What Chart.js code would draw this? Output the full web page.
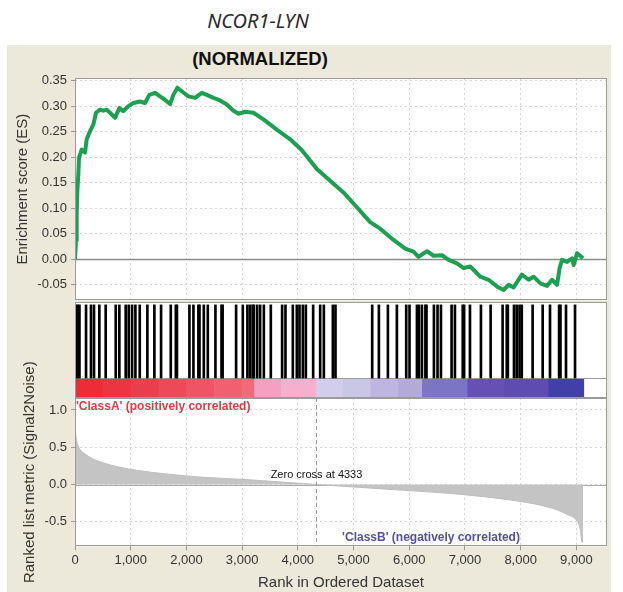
<!DOCTYPE html>
<html>
<head>
<meta charset="utf-8">
<title>NCOR1-LYN enrichment plot</title>
<script src="https://cdn.jsdelivr.net/npm/chart.js@4.4.1/dist/chart.umd.min.js"></script>
<style>
  html, body { margin: 0; padding: 0; background: #fff; }
  body { width: 623px; height: 592px; position: relative; overflow: hidden; }
  #gene-set { position: absolute; left: 158px; top: 11px; width: 200px; text-align: center;
              font: italic 20px/1 'Noto Sans', sans-serif; color: #2b2b2b; }
  #panel { position: absolute; left: 7px; top: 45px; width: 604px; height: 547px; background: #ece9da; }
  #panel-title { position: absolute; left: 153px; top: 5px; width: 200px; text-align: center;
                 font: bold 18.5px/1 'Liberation Sans', Arial, sans-serif; color: #111; }
  #panel canvas { position: absolute; left: 0; }
  #chart-es   { top: 0; }
  #chart-hits { top: 257px; }
  #chart-rank { top: 295px; }
</style>
</head>
<body>
<div id="gene-set">NCOR1-LYN</div>
<div id="panel">
  <div id="panel-title">(NORMALIZED)</div>
  <canvas id="chart-es" width="604" height="267"></canvas>
  <canvas id="chart-hits" width="604" height="96"></canvas>
  <canvas id="chart-rank" width="604" height="252"></canvas>
</div>
<script>
// Running enrichment score
var esRank = [0, 18, 30, 42, 60, 72, 120, 180, 210, 270, 330, 377, 449, 509, 569, 629, 719, 796, 868, 958,
  1048, 1168, 1257, 1335, 1437, 1527, 1617, 1707, 1766, 1838, 1916, 2036, 2156, 2276, 2366, 2485, 2605, 2725,
  2845, 2934, 3054, 3203, 3383, 3623, 3862, 4070, 4341, 4640, 4820, 5060, 5299, 5479, 5718, 5928, 6077, 6167,
  6318, 6437, 6587, 6707, 6857, 6976, 7095, 7275, 7424, 7574, 7694, 7784, 7874, 8023, 8143, 8233, 8353, 8473,
  8563, 8653, 8700, 8743, 8832, 8922, 8952, 9012, 9120];
var esScore = [0, 0.037, 0.089, 0.134, 0.167, 0.199, 0.215, 0.209, 0.235, 0.251, 0.264, 0.287, 0.293, 0.291,
  0.293, 0.287, 0.277, 0.296, 0.290, 0.300, 0.306, 0.309, 0.306, 0.322, 0.326, 0.319, 0.312, 0.304, 0.322,
  0.336, 0.329, 0.319, 0.316, 0.326, 0.322, 0.316, 0.311, 0.303, 0.291, 0.285, 0.289, 0.287, 0.274, 0.254,
  0.235, 0.214, 0.177, 0.148, 0.131, 0.102, 0.073, 0.060, 0.038, 0.021, 0.015, 0.005, 0.016, 0.007, 0.008,
  -0.001, -0.008, -0.017, -0.014, -0.034, -0.040, -0.053, -0.060, -0.050, -0.055, -0.030, -0.040, -0.034,
  -0.047, -0.052, -0.040, -0.050, -0.017, -0.001, -0.005, 0.002, -0.011, 0.012, 0.002];

// Positions of gene set members in the ranked list
var hitRanks = [20, 50, 80, 198, 287, 341, 437, 551, 731, 796, 910, 964, 1024, 1084, 1162, 1299, 1425, 1545,
  1719, 1810, 1830, 2054, 2126, 2215, 2235, 2312, 2384, 2521, 2630, 2650, 2892, 3012, 3095, 3143, 3190, 3210,
  3269, 3323, 3390, 3515, 3718, 3778, 3910, 3982, 4030, 4090, 4144, 4275, 4401, 4467, 4629, 4676, 5335, 5455,
  5617, 5778, 5946, 6005, 6138, 6174, 6228, 6290, 6310, 6443, 6508, 6569, 6760, 6820, 6960, 6985, 7090, 7287,
  7461, 7676, 7750, 7770, 7880, 7928, 7980, 8020, 8215, 8395, 8527, 8690, 8715, 8814, 8976];

// Heat bar under the hits: segment edges and their colours
var heatEdges = [0, 500, 1000, 1500, 2000, 2500, 3000, 3220, 3700, 4333, 4800, 5300, 5800, 6230, 7040, 7700, 8500, 9130];
var heatColors = ['#ee2c38', '#ec3442', '#ea3e4c', '#ec4a58', '#ee5464', '#f0606e', '#f06a78', '#f4a0c0',
  '#f4b0cc', '#d2cdea', '#cac6e6', '#beb6e0', '#b4aada', '#7c74c4', '#6650b4', '#5e4cb0', '#4040a8'];

// Ranked list metric (Signal2Noise)
var metricRank = [0, 18, 42, 90, 180, 330, 510, 810, 1110, 1700, 2300, 3080, 3700, 4040, 4333, 4940, 5840,
  6740, 7330, 7930, 8530, 8830, 9010, 9070, 9100, 9120];
var metricValue = [0.75, 0.64, 0.55, 0.47, 0.41, 0.34, 0.29, 0.23, 0.19, 0.137, 0.097, 0.066, 0.033, 0.016,
  0, -0.03, -0.075, -0.12, -0.163, -0.22, -0.31, -0.40, -0.49, -0.60, -0.77, -0.78];

var xTicks = [0, 1000, 2000, 3000, 4000, 5000, 6000, 7000, 8000, 9000];
var zeroCross = 4333;
var xMax = 9550;

var gridColor = '#d4d4d4';
var frameColor = '#9a9a9a';
var tickFont = { family: "'Liberation Sans', Arial, sans-serif", size: 13 };
var titleFont = { family: "'Liberation Sans', Arial, sans-serif", size: 15 };

function toPoints(xs, ys) {
  return xs.map(function (x, i) { return { x: x, y: ys[i] }; });
}

// white plot background, frame, optional zero line
var plotFrame = {
  id: 'plotFrame',
  beforeDraw: function (chart) {
    var a = chart.chartArea, ctx = chart.ctx;
    ctx.save();
    ctx.fillStyle = '#fff';
    ctx.fillRect(a.left, a.top, a.width, a.height);
    ctx.restore();
  },
  beforeDatasetsDraw: function (chart, args, opts) {
    if (!opts.zeroLine) return;
    var a = chart.chartArea, ctx = chart.ctx;
    var y = Math.round(chart.scales.y.getPixelForValue(0)) + 0.5;
    ctx.save();
    ctx.strokeStyle = opts.zeroColor || '#8c8c8c';
    ctx.lineWidth = opts.zeroWidth || 1.5;
    ctx.beginPath();
    ctx.moveTo(a.left, y);
    ctx.lineTo(a.right, y);
    ctx.stroke();
    ctx.restore();
  },
  afterDraw: function (chart) {
    var a = chart.chartArea, ctx = chart.ctx;
    ctx.save();
    ctx.strokeStyle = frameColor;
    ctx.lineWidth = 1;
    ctx.strokeRect(Math.round(a.left) + 0.5, Math.round(a.top) + 0.5, Math.round(a.width) - 1, Math.round(a.height) - 1);
    ctx.restore();
  }
};

function xScale(showTicks) {
  return {
    type: 'linear', min: 0, max: xMax, offset: false,
    afterBuildTicks: function (s) { s.ticks = xTicks.map(function (v) { return { value: v }; }); },
    ticks: {
      display: showTicks, padding: 2, font: tickFont, color: '#333',
      callback: function (v) { return v.toLocaleString('en-US'); }
    },
    grid: { color: gridColor, drawTicks: showTicks, tickLength: 4, tickColor: frameColor, tickBorderDash: [] },
    border: { display: false, dash: [2, 3] }
  };
}

// Enrichment score panel
new Chart(document.getElementById('chart-es'), {
  type: 'line',
  data: {
    datasets: [{
      data: toPoints(esRank, esScore),
      borderColor: '#1ba150', borderWidth: 4, borderJoinStyle: 'round',
      pointRadius: 0, tension: 0
    }]
  },
  options: {
    responsive: false, animation: false,
    layout: { padding: { top: 33, right: 4, bottom: 10, left: 0 } },
    plugins: { legend: { display: false }, tooltip: { enabled: false }, plotFrame: { zeroLine: true } },
    scales: {
      x: xScale(false),
      y: {
        min: -0.08, max: 0.355,
        afterFit: function (s) { s.width = 68; },
        ticks: { stepSize: 0.05, includeBounds: false, padding: 4, font: tickFont, color: '#333',
                 callback: function (v) { return v.toFixed(2); } },
        grid: { color: gridColor, tickLength: 4, tickColor: frameColor, tickBorderDash: [] },
        border: { display: false, dash: [2, 3] },
        title: { display: true, text: 'Enrichment score (ES)', font: titleFont, color: '#333', padding: { top: 7, bottom: 0 } }
      }
    }
  },
  plugins: [plotFrame]
});

// Hits + heat bar panel
var heatBar = {
  id: 'heatBar',
  beforeDatasetsDraw: function (chart) {
    var a = chart.chartArea, ctx = chart.ctx;
    var xs = chart.scales.x, ys = chart.scales.y;
    var top = ys.getPixelForValue(0.208), bottom = ys.getPixelForValue(0);
    ctx.save();
    for (var i = 0; i < heatColors.length; i++) {
      var x0 = xs.getPixelForValue(heatEdges[i]);
      var x1 = xs.getPixelForValue(heatEdges[i + 1]);
      ctx.fillStyle = heatColors[i];
      ctx.fillRect(x0, top, x1 - x0 + 0.5, bottom - top);
    }
    ctx.strokeStyle = frameColor;
    ctx.lineWidth = 1;
    ctx.beginPath();
    ctx.moveTo(a.left, Math.round(top) + 0.5);
    ctx.lineTo(a.right, Math.round(top) + 0.5);
    ctx.stroke();
    ctx.restore();
  }
};

new Chart(document.getElementById('chart-hits'), {
  type: 'bar',
  data: {
    datasets: [{
      data: hitRanks.map(function (r) { return { x: r, y: [0.208, 0.97] }; }),
      backgroundColor: '#000', barThickness: 2, grouped: false
    }]
  },
  options: {
    responsive: false, animation: false,
    layout: { padding: { top: 0, right: 4, bottom: 0, left: 68 } },
    plugins: { legend: { display: false }, tooltip: { enabled: false } },
    scales: {
      x: { type: 'linear', min: 0, max: xMax, offset: false, display: false },
      y: { min: 0, max: 1, display: false }
    }
  },
  plugins: [plotFrame, heatBar]
});

// Ranked list metric panel
var rankNotes = {
  id: 'rankNotes',
  afterDatasetsDraw: function (chart) {
    var a = chart.chartArea, ctx = chart.ctx;
    var xs = chart.scales.x, ys = chart.scales.y;
    var zx = Math.round(xs.getPixelForValue(zeroCross)) + 0.5;
    ctx.save();
    ctx.strokeStyle = '#9a9a9a';
    ctx.lineWidth = 1;
    ctx.setLineDash([4, 3]);
    ctx.beginPath();
    ctx.moveTo(zx, a.top);
    ctx.lineTo(zx, a.bottom);
    ctx.stroke();
    ctx.setLineDash([]);

    ctx.textBaseline = 'middle';
    ctx.font = "11px 'Liberation Sans', Arial, sans-serif";
    ctx.fillStyle = '#111';
    ctx.textAlign = 'center';
    ctx.fillText('Zero cross at ' + zeroCross, zx, ys.getPixelForValue(0) - 10);

    ctx.font = "bold 12px 'Liberation Sans', Arial, sans-serif";
    ctx.textAlign = 'left';
    ctx.fillStyle = '#e23c48';
    ctx.fillText("'ClassA' (positively correlated)", a.left + 1, a.top + 9);
    ctx.fillStyle = '#5550a8';
    ctx.textAlign = 'center';
    ctx.fillText("'ClassB' (negatively correlated)", 424, a.bottom - 9);
    ctx.restore();
  }
};

new Chart(document.getElementById('chart-rank'), {
  type: 'line',
  data: {
    datasets: [{
      data: toPoints(metricRank, metricValue),
      fill: 'origin', backgroundColor: '#c4c4c4', borderColor: '#bdbdbd', borderWidth: 1,
      pointRadius: 0, cubicInterpolationMode: 'monotone'
    }]
  },
  options: {
    responsive: false, animation: false,
    layout: { padding: { top: 58, right: 4, bottom: 0, left: 0 } },
    plugins: { legend: { display: false }, tooltip: { enabled: false },
               plotFrame: { zeroLine: true, zeroColor: '#aaaaaa', zeroWidth: 1 } },
    scales: {
      x: Object.assign(xScale(true), {
        title: { display: true, text: 'Rank in Ordered Dataset', font: titleFont, color: '#333', padding: { top: 4, bottom: 0 } }
      }),
      y: {
        min: -0.83, max: 1.16,
        afterFit: function (s) { s.width = 68; },
        ticks: { stepSize: 0.5, includeBounds: false, padding: 4, font: tickFont, color: '#333',
                 callback: function (v) { return v.toFixed(1); } },
        grid: { color: gridColor, tickLength: 4, tickColor: frameColor, tickBorderDash: [] },
        border: { display: false, dash: [2, 3] },
        title: { display: true, text: 'Ranked list metric (Signal2Noise)', font: titleFont, color: '#333', padding: { top: 14, bottom: 0 } }
      }
    }
  },
  plugins: [plotFrame, rankNotes]
});
</script>
</body>
</html>
